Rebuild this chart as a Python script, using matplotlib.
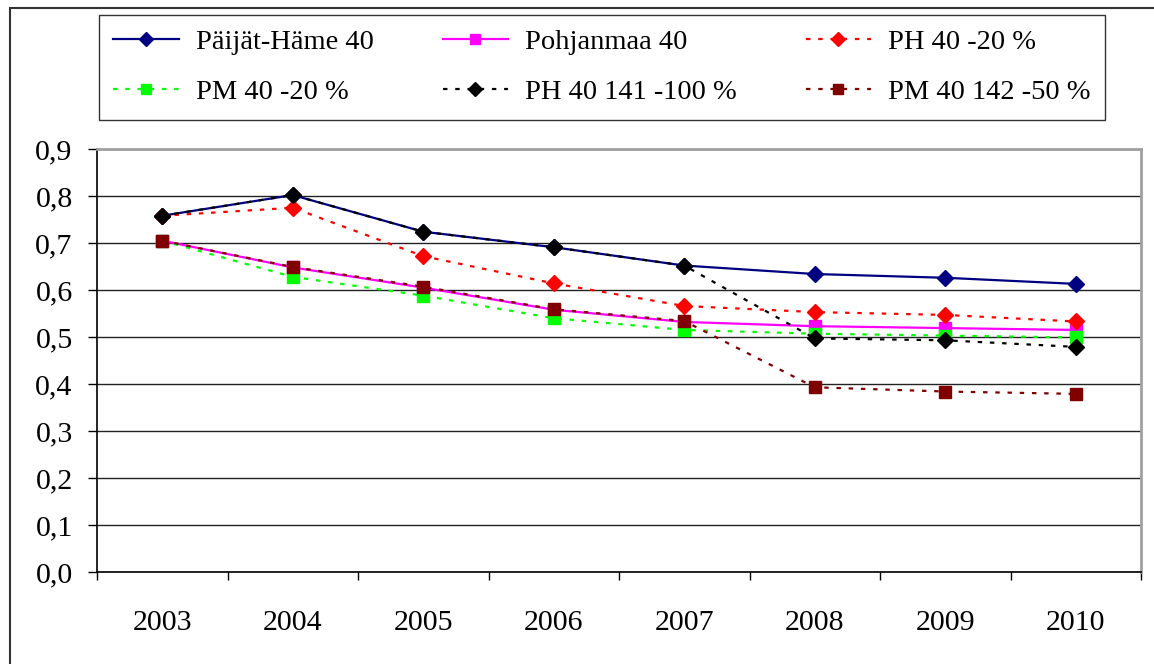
import matplotlib
matplotlib.use("Agg")
import matplotlib.pyplot as plt
from matplotlib.patches import Rectangle
from matplotlib.ticker import FuncFormatter, FixedLocator

plt.rcParams['font.family'] = ['Liberation Serif', 'DejaVu Serif']

# -------------------------
# Data
# -------------------------
years = ["2003", "2004", "2005", "2006", "2007", "2008", "2009", "2010"]

paijat_hame = [0.758, 0.802, 0.724, 0.691, 0.652, 0.634, 0.626, 0.613]
pohjanmaa = [0.705, 0.648, 0.605, 0.558, 0.532, 0.523, 0.519, 0.515]
ph_minus20 = [0.758, 0.775, 0.672, 0.614, 0.566, 0.553, 0.547, 0.533]
pm_minus20 = [0.705, 0.628, 0.588, 0.540, 0.515, 0.507, 0.503, 0.499]
ph_141 = [0.758, 0.802, 0.724, 0.691, 0.652, 0.497, 0.493, 0.479]
pm_142 = [0.705, 0.649, 0.607, 0.559, 0.534, 0.393, 0.384, 0.379]

series = [
    ("Päijät-Häme 40", paijat_hame, "#000080", "-", "D", 8.5),
    ("Pohjanmaa 40", pohjanmaa, "#FF00FF", "-", "s", 9),
    ("PH 40 -20 %", ph_minus20, "#FF0000", (0, (2, 3.5)), "D", 8.5),
    ("PM 40 -20 %", pm_minus20, "#00FF00", (0, (2, 3.5)), "s", 9),
    ("PH 40 141 -100 %", ph_141, "#000000", (0, (2, 3.5)), "D", 8.5),
    ("PM 40 142 -50 %", pm_142, "#800000", (0, (2, 3.5)), "s", 9),
]

# -------------------------
# Figure
# -------------------------
fig = plt.figure(figsize=(11.54, 6.64), dpi=100)
ax = fig.add_axes([97 / 1154, 1 - 572 / 664, (1141 - 97) / 1154, (572 - 149) / 664])

x = list(range(1, len(years) + 1))
handles = []
for label, vals, color, ls, marker, ms in series:
    line, = ax.plot(x, vals, color=color, linestyle=ls, linewidth=1.6,
                    marker=marker, markersize=ms, markerfacecolor=color,
                    markeredgecolor=color, label=label)
    handles.append(line)

ax.set_xlim(0.5, len(years) + 0.5)
ax.set_ylim(0, 0.9)

# category boundaries get tick marks, labels sit at the centres
ax.xaxis.set_major_locator(FixedLocator([i + 0.5 for i in range(0, len(years) + 1)]))
ax.xaxis.set_minor_locator(FixedLocator(x))
ax.set_xticklabels([], minor=False)
ax.set_xticklabels(years, minor=True)
ax.tick_params(axis='x', which='major', direction='out', length=6, width=1, color='black')
ax.tick_params(axis='x', which='minor', length=0, pad=27, labelsize=21.5)

ax.set_yticks([i / 10 for i in range(10)])
ax.yaxis.set_major_formatter(FuncFormatter(lambda v, p: f"{v:.1f}".replace('.', ',')))
ax.tick_params(axis='y', direction='out', length=6.5, width=1, color='black',
               pad=11, labelsize=21.5)

ax.grid(axis='y', color='#222222', linewidth=1.0)
ax.set_axisbelow(True)
for side in ['left', 'bottom']:
    ax.spines[side].set_color('black')
    ax.spines[side].set_linewidth(1.2)
for side in ['top', 'right']:
    ax.spines[side].set_color('#a0a0a0')
    ax.spines[side].set_linewidth(2)

# legend box across the top, filled row by row
order = [0, 3, 1, 4, 2, 5]
leg = fig.legend([handles[i] for i in order], [series[i][0] for i in order],
                 loc='upper left', ncol=3, mode='expand',
                 bbox_to_anchor=(99 / 1154, 1 - 117 / 664, (1105 - 99) / 1154, 102 / 664),
                 borderaxespad=0, fontsize=20.5, handlelength=2.3, handletextpad=0.6,
                 labelspacing=0.85, borderpad=0.5, markerscale=0.85,
                 fancybox=False, frameon=True, edgecolor='black')
leg.get_frame().set_linewidth(1.0)

# outer chart frame
fig.patches.append(Rectangle((10 / 1154, -0.5), 2.0, 1.5 - 8 / 664,
                             transform=fig.transFigure, fill=False,
                             edgecolor='#333333', linewidth=1.5))

fig.savefig("out.png", dpi=100)
